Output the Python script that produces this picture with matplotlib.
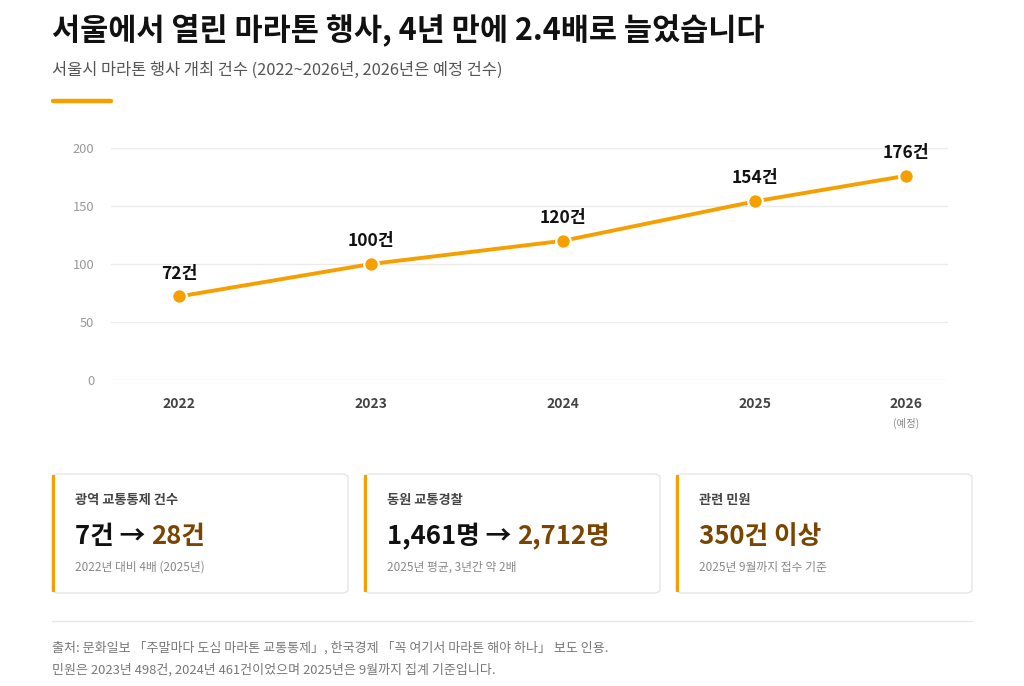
import matplotlib
matplotlib.use("Agg")
import matplotlib.pyplot as plt
from matplotlib.patches import FancyBboxPatch, Rectangle
from matplotlib.lines import Line2D

plt.rcParams['font.family'] = ['Noto Sans CJK KR', 'DejaVu Sans']

# data
years = ["2022", "2023", "2024", "2025", "2026"]
events = [72, 100, 120, 154, 176]
point_labels = ["72건", "100건", "120건", "154건", "176건"]
y_ticks = [0, 50, 100, 150, 200]

title = "서울에서 열린 마라톤 행사, 4년 만에 2.4배로 늘었습니다"
subtitle = "서울시 마라톤 행사 개최 건수 (2022~2026년, 2026년은 예정 건수)"

card_titles = ["광역 교통통제 건수", "동원 교통경찰", "관련 민원"]
card_before = ["7건 → ", "1,461명 → ", ""]
card_after = ["28건", "2,712명", "350건 이상"]
card_notes = ["2022년 대비 4배 (2025년)", "2025년 평균, 3년간 약 2배", "2025년 9월까지 접수 기준"]

footer = [
    "출처: 문화일보 「주말마다 도심 마라톤 교통통제」, 한국경제 「꼭 여기서 마라톤 해야 하나」 보도 인용.",
    "민원은 2023년 498건, 2024년 461건이었으며 2025년은 9월까지 집계 기준입니다.",
]

ORANGE = "#F5A000"
BROWN = "#7A4500"
W, H = 1024, 686

fig = plt.figure(figsize=(W / 100, H / 100), dpi=100)
fig.patch.set_facecolor("white")


def fx(px):
    return px / W


def fy(py):
    return 1 - py / H


# header
fig.text(fx(52), fy(30), title, fontsize=22, fontweight="bold", color="#111111", va="center")
fig.text(fx(52), fy(70), subtitle, fontsize=11.8, color="#555555", va="center")
fig.add_artist(Line2D([fx(53), fx(111)], [fy(101), fy(101)], color=ORANGE, lw=3.2,
                      solid_capstyle="round"))

# line chart
ax = fig.add_axes([fx(111), fy(380), fx(948 - 111), (380 - 148) / H])
x_pos = [0, 1, 2, 3, 3.786]
ax.plot(x_pos, events, color=ORANGE, lw=2.8, zorder=3)
ax.scatter(x_pos, events, s=110, color=ORANGE, edgecolor="white", linewidth=1.6, zorder=4)
for x, v, lab in zip(x_pos, events, point_labels):
    ax.annotate(lab, (x, v), xytext=(0, 10), textcoords="offset points", ha="center",
                va="bottom", fontsize=12.5, fontweight="bold", color="#111111")
ax.set_xlim(-0.354, 4.005)
ax.set_ylim(0, 200)
ax.set_yticks(y_ticks)
ax.set_yticklabels([str(t) for t in y_ticks], fontsize=9.3, color="#999999")
ax.set_xticks(x_pos)
ax.set_xticklabels(years, fontsize=10, fontweight="bold", color="#444444")
ax.tick_params(axis="both", length=0)
ax.tick_params(axis="y", pad=12)
ax.tick_params(axis="x", pad=12)
ax.grid(axis="y", color="#EBEBEB", lw=1)
ax.set_axisbelow(True)
for s in ax.spines.values():
    s.set_visible(False)
ax.annotate("(예정)", (x_pos[-1], 0), xycoords=("data", "axes fraction"), xytext=(0, -31),
            textcoords="offset points", ha="center", va="center", fontsize=7.5, color="#888888")

# cards
card_x = [52, 364, 676]
for i, cx in enumerate(card_x):
    box = FancyBboxPatch((fx(cx), fy(593)), fx(296), (593 - 474) / H,
                         boxstyle="round,pad=0,rounding_size=0.006",
                         transform=fig.transFigure, facecolor="white",
                         edgecolor="#E6E6E6", lw=1)
    fig.add_artist(box)
    fig.add_artist(Rectangle((fx(cx), fy(592)), fx(3), (592 - 475) / H,
                             transform=fig.transFigure, color=ORANGE, lw=0))
    tx = cx + 23
    fig.text(fx(tx), fy(500), card_titles[i], fontsize=9.5, fontweight="bold",
             color="#444444", va="center")
    if card_before[i]:
        t = fig.text(fx(tx), fy(537), card_before[i], fontsize=18.5, fontweight="bold",
                     color="#111111", va="center")
        fig.canvas.draw()
        bb = t.get_window_extent()
        fig.text(bb.x1 / W, fy(537), card_after[i], fontsize=18.5, fontweight="bold",
                 color=BROWN, va="center")
    else:
        fig.text(fx(tx), fy(537), card_after[i], fontsize=18.5, fontweight="bold",
                 color=BROWN, va="center")
    fig.text(fx(tx), fy(567), card_notes[i], fontsize=8.5, color="#888888", va="center")

# footer
fig.add_artist(Line2D([fx(52), fx(972)], [fy(621), fy(621)], color="#E6E6E6", lw=1))
fig.text(fx(52), fy(648), footer[0], fontsize=9.35, color="#777777", va="center")
fig.text(fx(52), fy(670), footer[1], fontsize=9.35, color="#777777", va="center")

fig.savefig("out.png", dpi=100)
